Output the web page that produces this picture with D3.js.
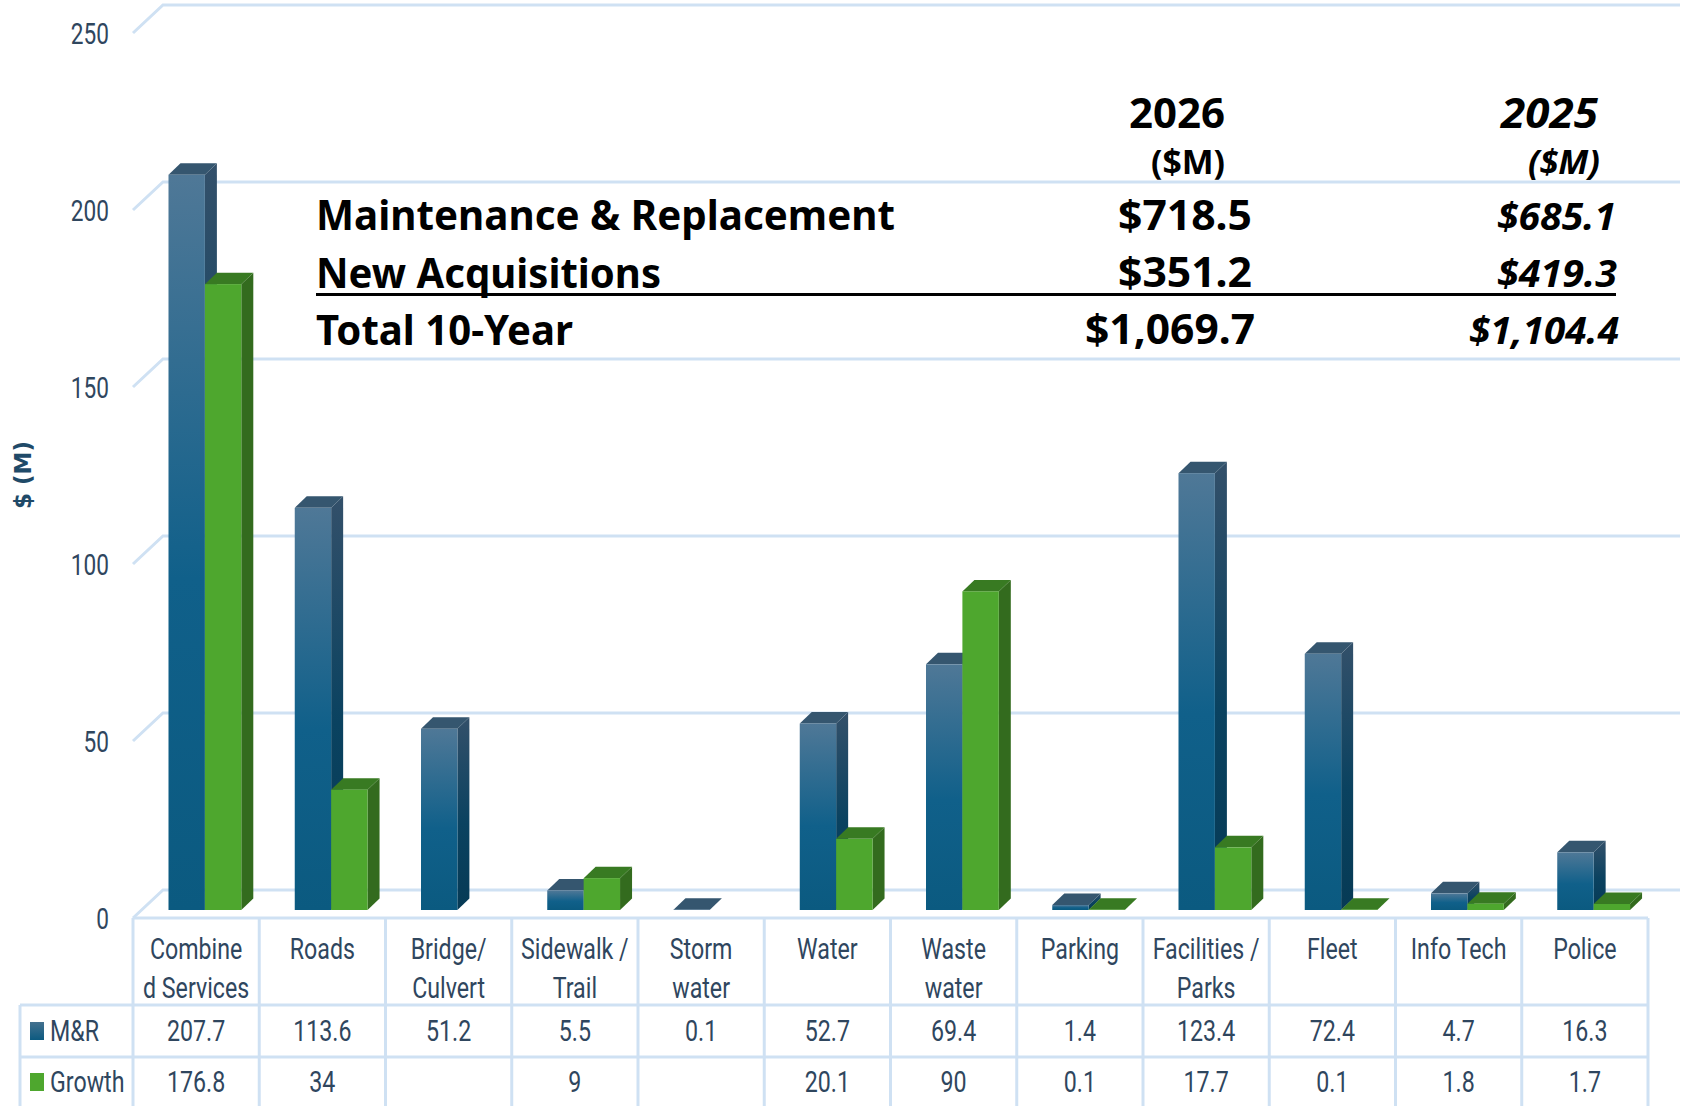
<!DOCTYPE html>
<html>
<head>
<meta charset="utf-8">
<script src="https://cdn.jsdelivr.net/npm/d3@7"></script>
<style>
    html, body { margin: 0; padding: 0; background: #fff; overflow: hidden; }
    svg { display: block; }
</style>
</head>
<body>
<div id="chart"></div>
<script>
// chart data
const categories = ["Combined Services", "Roads", "Bridge/Culvert", "Sidewalk / Trail", "Storm water", "Water", "Waste water", "Parking", "Facilities / Parks", "Fleet", "Info Tech", "Police"];
const categoryLines = [["Combine", "d Services"], ["Roads"], ["Bridge/", "Culvert"], ["Sidewalk /", "Trail"], ["Storm", "water"], ["Water"], ["Waste", "water"], ["Parking"], ["Facilities /", "Parks"], ["Fleet"], ["Info Tech"], ["Police"]];
const seriesNames = ["M&R", "Growth"];
const mrValues = [207.7, 113.6, 51.2, 5.5, 0.1, 52.7, 69.4, 1.4, 123.4, 72.4, 4.7, 16.3];
const growthValues = [176.8, 34, null, 9, null, 20.1, 90, 0.1, 17.7, 0.1, 1.8, 1.7];
const yTicks = [0, 50, 100, 150, 200, 250];

// overlaid summary table
const summaryLabels = ["Maintenance & Replacement", "New Acquisitions", "Total 10-Year"];
const summary2026 = ["$718.5", "$351.2", "$1,069.7"];
const summary2025 = ["$685.1", "$419.3", "$1,104.4"];

const width = 1688, height = 1106;
const tableLeft = 20, plotLeft = 133, plotRight = 1648, gridRight = 1680;
const floorY = 918, topY = 33;
const backDx = 30, backDy = 28;     // floor depth
const barDy = 8;                    // bars stand a bit behind the front edge
const sideDx = 12, sideDy = 11.5;   // depth of one bar
const rowLines = [918, 1005, 1057];

const svg = d3.select("#chart").append("svg")
    .attr("width", width)
    .attr("height", height);

const defs = svg.append("defs");

const addGradient = (id, stops) => {
    const g = defs.append("linearGradient")
        .attr("id", id)
        .attr("x1", "0").attr("x2", "0")
        .attr("y1", "0").attr("y2", "1");
    stops.forEach(s => g.append("stop").attr("offset", s[0]).attr("stop-color", s[1]));
};
addGradient("mrFront", [["0%", "#4f7897"], ["55%", "#10608a"], ["100%", "#0b5a80"]]);
addGradient("mrSide", [["0%", "#33506a"], ["55%", "#0a4260"], ["100%", "#063a55"]]);
addGradient("mrSwatch", [["0%", "#44718f"], ["100%", "#0c5a80"]]);

const x = d3.scaleBand()
    .domain(categories)
    .range([plotLeft, plotRight]);

const barWidth = 36.4;
const barOffset = 35.5;

const y = d3.scaleLinear()
    .domain([0, 250])
    .range([floorY, topY]);

// no condensed face installed, squeeze Roboto sideways, keeps its anchor
const squeeze = (sel, factor) => {
    sel.each(function () {
        const w = this.getComputedTextLength();
        d3.select(this)
            .attr("textLength", w * factor)
            .attr("lengthAdjust", "spacingAndGlyphs");
    });
};

const grid = svg.append("g")
    .attr("fill", "none")
    .attr("stroke", "#cfe1f3")
    .attr("stroke-width", 3);

// back wall lines with the slanted part at the left
grid.selectAll("path")
    .data(yTicks)
    .join("path")
    .attr("d", d => {
        const p = d3.path();
        p.moveTo(plotLeft, y(d));
        p.lineTo(plotLeft + backDx, y(d) - backDy);
        p.lineTo(gridRight, y(d) - backDy);
        return p.toString();
    });

// y axis
const axis = svg.append("g")
    .attr("transform", `translate(${plotLeft},0)`)
    .call(d3.axisLeft(y).tickValues(yTicks).tickSize(0).tickPadding(24));
axis.select(".domain").remove();
axis.selectAll("text")
    .attr("dy", "0.36em")
    .attr("fill", "#2f465e")
    .style("font-family", "Roboto, sans-serif")
    .style("font-size", "29px")
    .call(squeeze, 0.78);

svg.append("text")
    .attr("transform", "translate(31,475) rotate(-90)")
    .attr("text-anchor", "middle")
    .attr("fill", "#1f4a68")
    .style("font-family", "'DejaVu Sans', sans-serif")
    .style("font-weight", "bold")
    .style("font-size", "23px")
    .text("$ (M)");

// 3D bars
const styles = [
    { front: "url(#mrFront)", side: "url(#mrSide)", top: "#35566f" },
    { front: "#4ea72e", side: "#336b1e", top: "#387a22" }
];

const drawBar = (parent, cat, value, i) => {
    if (value === null) return;
    const st = styles[i];
    const x0 = x(cat) + barOffset + i * barWidth;
    const x1 = x0 + barWidth;
    const yBase = y(0) - barDy;
    const yTop = y(value) - barDy;
    const bar = parent.append("g");

    const side = d3.path();
    side.moveTo(x1, yTop);
    side.lineTo(x1 + sideDx, yTop - sideDy);
    side.lineTo(x1 + sideDx, yBase - sideDy);
    side.lineTo(x1, yBase);
    side.closePath();
    if (yBase - yTop > 1) {
        bar.append("path").attr("d", side.toString()).attr("fill", st.side);
    }

    const top = d3.path();
    top.moveTo(x0, yTop);
    top.lineTo(x0 + sideDx, yTop - sideDy);
    top.lineTo(x1 + sideDx, yTop - sideDy);
    top.lineTo(x1, yTop);
    top.closePath();
    bar.append("path").attr("d", top.toString()).attr("fill", st.top);

    bar.append("rect")
        .attr("x", x0)
        .attr("y", yTop)
        .attr("width", barWidth)
        .attr("height", Math.max(0, yBase - yTop))
        .attr("fill", st.front);
};

const bars = svg.append("g");
categories.forEach((cat, k) => {
    drawBar(bars, cat, mrValues[k], 0);
    drawBar(bars, cat, growthValues[k], 1);
});

// data table under the plot
const table = svg.append("g")
    .attr("stroke", "#cfe1f3")
    .attr("stroke-width", 3);

table.append("line").attr("x1", plotLeft).attr("x2", plotRight).attr("y1", rowLines[0]).attr("y2", rowLines[0]);
rowLines.slice(1).forEach(r => {
    table.append("line").attr("x1", tableLeft).attr("x2", plotRight).attr("y1", r).attr("y2", r);
});
table.append("line").attr("x1", tableLeft).attr("x2", tableLeft).attr("y1", rowLines[1]).attr("y2", height);
d3.range(categories.length + 1).forEach(k => {
    const vx = k < categories.length ? x(categories[k]) : plotRight;
    table.append("line").attr("x1", vx).attr("x2", vx).attr("y1", rowLines[0]).attr("y2", height);
});

const tableText = svg.append("g")
    .attr("fill", "#2f465e")
    .style("font-family", "Roboto, sans-serif")
    .style("font-size", "29px");

categories.forEach((cat, k) => {
    const cx = x(cat) + x.bandwidth() / 2;
    categoryLines[k].forEach((line, j) => {
        tableText.append("text")
            .attr("x", cx)
            .attr("y", 959 + j * 39)
            .attr("text-anchor", "middle")
            .text(line);
    });
    [mrValues[k], growthValues[k]].forEach((v, j) => {
        if (v === null) return;
        tableText.append("text")
            .attr("x", cx)
            .attr("y", [1041, 1092][j])
            .attr("text-anchor", "middle")
            .text(v);
    });
});

// legend keys in the table
seriesNames.forEach((name, j) => {
    svg.append("rect")
        .attr("x", 30)
        .attr("y", [1022, 1073][j])
        .attr("width", 14)
        .attr("height", 18)
        .attr("fill", j === 0 ? "url(#mrSwatch)" : "#4ea72e");
    tableText.append("text")
        .attr("x", 50)
        .attr("y", [1041, 1092][j])
        .text(name);
});
tableText.selectAll("text").call(squeeze, 0.8);

// summary block on top of the chart
const summary = svg.append("g")
    .attr("fill", "#000")
    .style("font-family", "'Noto Sans', sans-serif")
    .style("font-weight", "bold");

const put = (txt, x0, x1, base, size, italic) => {
    summary.append("text")
        .attr("x", x0)
        .attr("y", base)
        .attr("textLength", x1 - x0)
        .attr("lengthAdjust", "spacingAndGlyphs")
        .style("font-size", size + "px")
        .style("font-style", italic ? "italic" : "normal")
        .text(txt);
};

const rowBase = [230, 287, 344];
summaryLabels.forEach((t, i) => {
    put(t, 316, [895, 661, 573][i], [230, 288, 345][i], 42, false);
});
put("2026", 1129, 1225, 128, 42, false);
put("($M)", 1151, 1225, 174, 34, false);
put("2025", 1501, 1598, 128, 42, true);
put("($M)", 1528, 1600, 174, 34, true);
summary2026.forEach((t, i) => {
    put(t, [1118, 1118, 1085][i], [1252, 1252, 1255][i], rowBase[i], 42, false);
});
summary2025.forEach((t, i) => {
    put(t, [1497, 1497, 1469][i], [1616, 1617, 1619][i], rowBase[i], 38, true);
});

svg.append("line")
    .attr("x1", 316).attr("x2", 1616)
    .attr("y1", 294.5).attr("y2", 294.5)
    .attr("stroke", "#000")
    .attr("stroke-width", 3);
</script>
</body>
</html>
